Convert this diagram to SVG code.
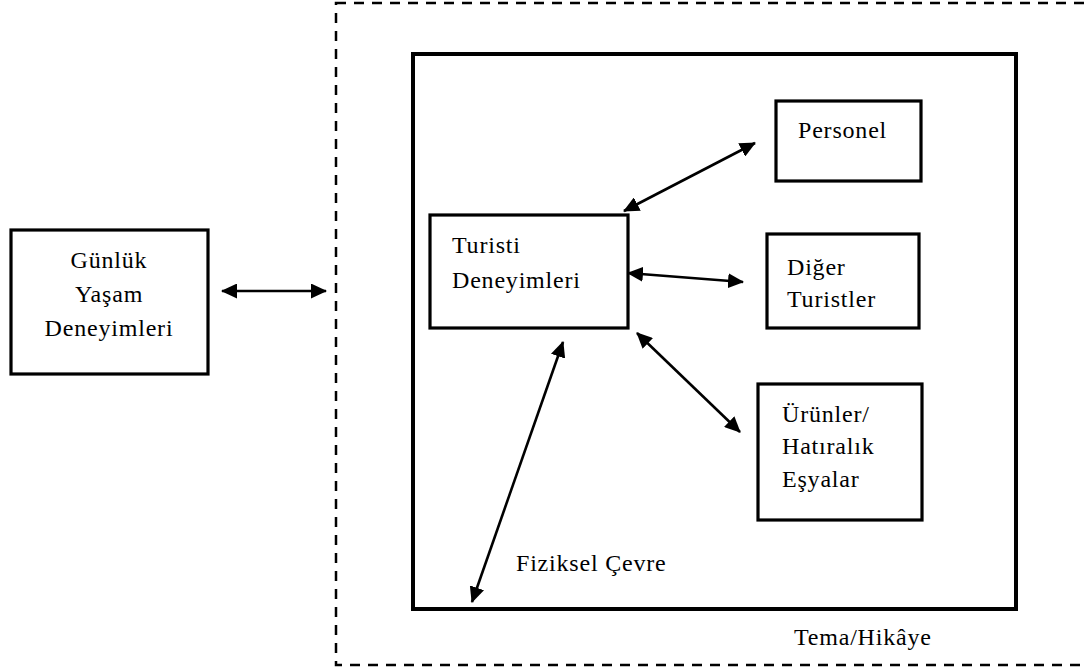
<svg xmlns="http://www.w3.org/2000/svg" width="1084" height="667" viewBox="0 0 1084 667">
<style>
.box{fill:none;stroke:#000;stroke-width:3.2}
.t{font-family:"Liberation Serif","DejaVu Serif",serif;font-size:24px;letter-spacing:0.8px;fill:#000}
.c{stroke:#000;stroke-width:2.6;fill:none;marker-start:url(#ah);marker-end:url(#ah)}
</style>
<defs>
<marker id="ah" viewBox="0 0 16 15" refX="15" refY="7.5" markerWidth="16" markerHeight="15" markerUnits="userSpaceOnUse" orient="auto-start-reverse">
<path d="M0,0 L16,7.5 L0,15 z" fill="#000"/>
</marker>
</defs>
<rect width="1084" height="667" fill="#fff"/>
<g id="tema">
<rect x="336" y="3" width="770" height="662" fill="none" stroke="#000" stroke-width="2.5" stroke-dasharray="10 8"/>
<text class="t" x="794" y="645">Tema/Hikâye</text>
</g>
<g id="fiziksel-cevre">
<rect x="413" y="54" width="603" height="555" fill="none" stroke="#000" stroke-width="4"/>
<text class="t" x="516" y="571">Fiziksel Çevre</text>
</g>
<g id="gunluk">
<rect class="box" x="11" y="230" width="197" height="144"/>
<text class="t" text-anchor="middle" x="109" y="268">Günlük</text>
<text class="t" text-anchor="middle" x="109" y="302">Yaşam</text>
<text class="t" text-anchor="middle" x="109" y="336">Deneyimleri</text>
</g>
<g id="turisti">
<rect class="box" x="430" y="215" width="198" height="113"/>
<text class="t" x="452" y="253">Turisti</text>
<text class="t" x="452" y="288">Deneyimleri</text>
</g>
<g id="personel">
<rect class="box" x="776" y="101" width="145" height="80"/>
<text class="t" x="798" y="138">Personel</text>
</g>
<g id="diger">
<rect class="box" x="767" y="234" width="152" height="94"/>
<text class="t" x="787" y="275">Diğer</text>
<text class="t" x="787" y="307">Turistler</text>
</g>
<g id="urunler">
<rect class="box" x="758" y="384" width="164" height="136"/>
<text class="t" x="782" y="422">Ürünler/</text>
<text class="t" x="782" y="454">Hatıralık</text>
<text class="t" x="782" y="487">Eşyalar</text>
</g>
<g id="connectors">
<path class="c" d="M222,291 L326,291"/>
<path class="c" d="M624,211 L755,143"/>
<path class="c" d="M628,273 L743,282"/>
<path class="c" d="M637,333 L740,432"/>
<path class="c" d="M563,342 L472,602"/>
</g>
</svg>
